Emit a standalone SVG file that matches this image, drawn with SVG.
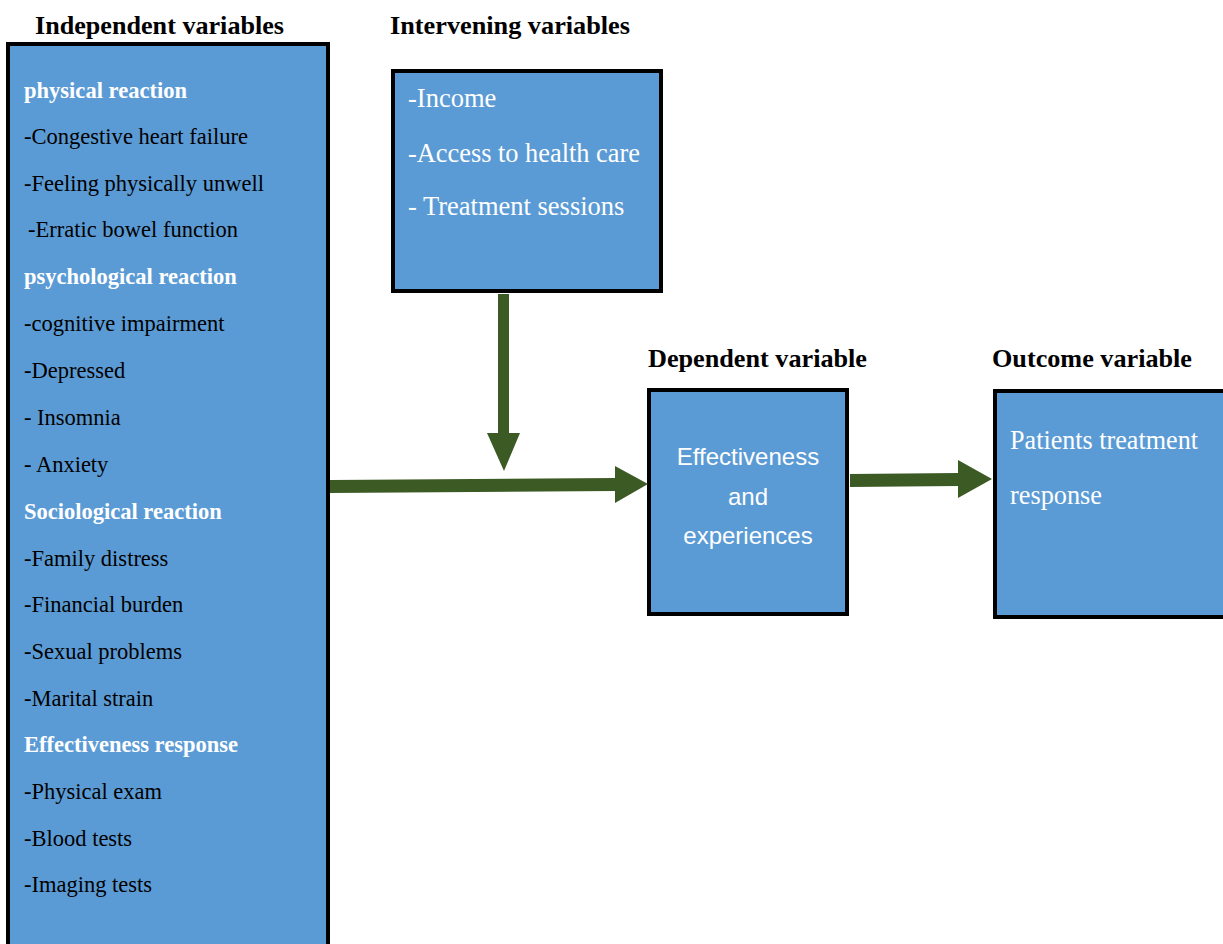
<svg xmlns="http://www.w3.org/2000/svg" width="1223" height="944" viewBox="0 0 1223 944">
<style>
.box{fill:#5B9BD5;stroke:#000;stroke-width:4}
.hdr{font-family:"Liberation Serif",serif;font-weight:bold;font-size:25px;fill:#000}
.item{font-family:"Liberation Serif",serif;font-size:22.5px;fill:#000}
.sec{font-family:"Liberation Serif",serif;font-weight:bold;font-size:22.5px;fill:#fff}
.wt{font-family:"Liberation Serif",serif;font-size:26.5px;fill:#fff}
.sans{font-family:"Liberation Sans",Arial,sans-serif;font-size:24px;fill:#fff}
.arr{fill:#3B5A24}
</style>
<rect width="1223" height="944" fill="#fff"/>
<g id="independent">
<text class="hdr" x="35" y="34" textLength="249" lengthAdjust="spacingAndGlyphs">Independent variables</text>
<rect class="box" x="8" y="44" width="320" height="910"/>
<text class="sec" x="24" y="98" textLength="163" lengthAdjust="spacingAndGlyphs">physical reaction</text>
<text class="item" x="24" y="144" textLength="224" lengthAdjust="spacingAndGlyphs">-Congestive heart failure</text>
<text class="item" x="24" y="191">-Feeling physically unwell</text>
<text class="item" x="28" y="237">-Erratic bowel function</text>
<text class="sec" x="24" y="284">psychological reaction</text>
<text class="item" x="24" y="331">-cognitive impairment</text>
<text class="item" x="24" y="378">-Depressed</text>
<text class="item" x="24" y="425">- Insomnia</text>
<text class="item" x="24" y="472">- Anxiety</text>
<text class="sec" x="24" y="519">Sociological reaction</text>
<text class="item" x="24" y="566">-Family distress</text>
<text class="item" x="24" y="612">-Financial burden</text>
<text class="item" x="24" y="659">-Sexual problems</text>
<text class="item" x="24" y="706">-Marital strain</text>
<text class="sec" x="24" y="752">Effectiveness response</text>
<text class="item" x="24" y="799">-Physical exam</text>
<text class="item" x="24" y="846">-Blood tests</text>
<text class="item" x="24" y="892">-Imaging tests</text>
</g>
<g id="intervening">
<text class="hdr" x="390" y="34" textLength="240" lengthAdjust="spacingAndGlyphs">Intervening variables</text>
<rect class="box" x="393" y="71" width="268" height="220"/>
<text class="wt" x="408" y="107">-Income</text>
<text class="wt" x="408" y="162" textLength="232" lengthAdjust="spacingAndGlyphs">-Access to health care</text>
<text class="wt" x="408" y="215">- Treatment sessions</text>
</g>
<g id="dependent">
<text class="hdr" x="648" y="367" textLength="219" lengthAdjust="spacingAndGlyphs">Dependent variable</text>
<rect class="box" x="649" y="390" width="198" height="224"/>
<text class="sans" x="748" y="465" text-anchor="middle">Effectiveness</text>
<text class="sans" x="748" y="505" text-anchor="middle">and</text>
<text class="sans" x="748" y="544" text-anchor="middle">experiences</text>
</g>
<g id="outcome">
<text class="hdr" x="992" y="367" textLength="200" lengthAdjust="spacingAndGlyphs">Outcome variable</text>
<rect class="box" x="995" y="391" width="240" height="226"/>
<text class="wt" x="1010" y="449" textLength="188" lengthAdjust="spacingAndGlyphs">Patients treatment</text>
<text class="wt" x="1010" y="504" textLength="92" lengthAdjust="spacingAndGlyphs">response</text>
</g>
<g id="connectors">
<polygon class="arr" points="498,294 509,294 509,433 520,433 504,471 487,433 498,433"/>
<polygon class="arr" points="330,480 615,478 615,466 648,484 615,503 615,491 330,493"/>
<polygon class="arr" points="850,474 958,473 958,460 992,479 958,498 958,486 850,487"/>
</g>
</svg>
